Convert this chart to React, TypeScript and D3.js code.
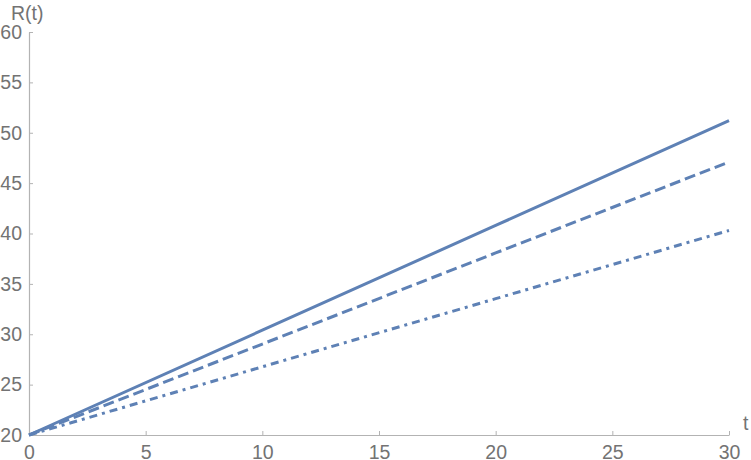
import React, { useEffect, useRef } from 'react'
import * as d3 from 'd3'

// values at t = 0, 10, 20, 30
const tValues = [0, 10, 20, 30]
const solidR = [20, 30.4, 40.8, 51.2]
const dashedR = [20, 29.03, 38.07, 47.1]
const dashDotR = [20, 26.77, 33.53, 40.3]

const xTicks = [0, 5, 10, 15, 20, 25, 30]
const yTicks = [20, 25, 30, 35, 40, 45, 50, 55, 60]

const W = 751
const H = 460
const LINE = '#5E81B5'
const AXIS = '#b3b3b3'
const LABEL = '#737373'
const FS = 19.5

const App = () => {
    const svgRef = useRef<SVGSVGElement>(null)

    useEffect(() => {
        const svg = d3.select(svgRef.current)
        svg.selectAll('*').remove()

        const x = d3.scaleLinear().domain([0, 30]).range([29, 729])
        const y = d3.scaleLinear().domain([20, 60]).range([435, 32])

        const font = "'Liberation Sans', Arial, sans-serif"

        // x axis
        const xAxis = d3.axisBottom(x).tickValues(xTicks).tickSizeInner(-4).tickSizeOuter(0).tickPadding(10)
        const gx = svg.append('g').attr('transform', `translate(0,${y(20)})`).call(xAxis)
        gx.select('.domain').attr('stroke', AXIS).attr('stroke-width', 1.2)
        gx.selectAll('.tick line').attr('stroke', AXIS)
        gx.selectAll('.tick text').attr('fill', LABEL).attr('font-size', FS).attr('font-family', font)

        // y axis
        const yAxis = d3.axisLeft(y).tickValues(yTicks).tickSizeInner(-4).tickSizeOuter(0).tickPadding(7)
        const gy = svg.append('g').attr('transform', `translate(${x(0)},0)`).call(yAxis)
        gy.select('.domain').attr('stroke', AXIS).attr('stroke-width', 1.2)
        gy.selectAll('.tick line').attr('stroke', AXIS)
        gy.selectAll('.tick text').attr('fill', LABEL).attr('font-size', FS).attr('font-family', font)

        // axis labels
        svg.append('text').attr('x', 11).attr('y', 20).text('R(t)')
            .attr('fill', LABEL).attr('font-size', FS).attr('font-family', font)
        svg.append('text').attr('x', 743).attr('y', 430).text('t')
            .attr('fill', LABEL).attr('font-size', FS).attr('font-family', font)

        const series = [
            { values: solidR, dash: null },
            { values: dashedR, dash: '11,5' },
            { values: dashDotR, dash: '8,5,3,5' },
        ]

        const lineGen = d3.line<number>()
            .x((d, i) => x(tValues[i]))
            .y(d => y(d))

        series.forEach(s => {
            svg.append('path')
                .datum(s.values)
                .attr('d', lineGen)
                .attr('fill', 'none')
                .attr('stroke', LINE)
                .attr('stroke-width', 3)
                .attr('stroke-dasharray', s.dash)
        })
    }, [])

    return (
        <svg ref={svgRef} width={W} height={H}
            style={{ position: 'absolute', left: 0, top: 0, background: '#fff' }} />
    )
}

export default App
